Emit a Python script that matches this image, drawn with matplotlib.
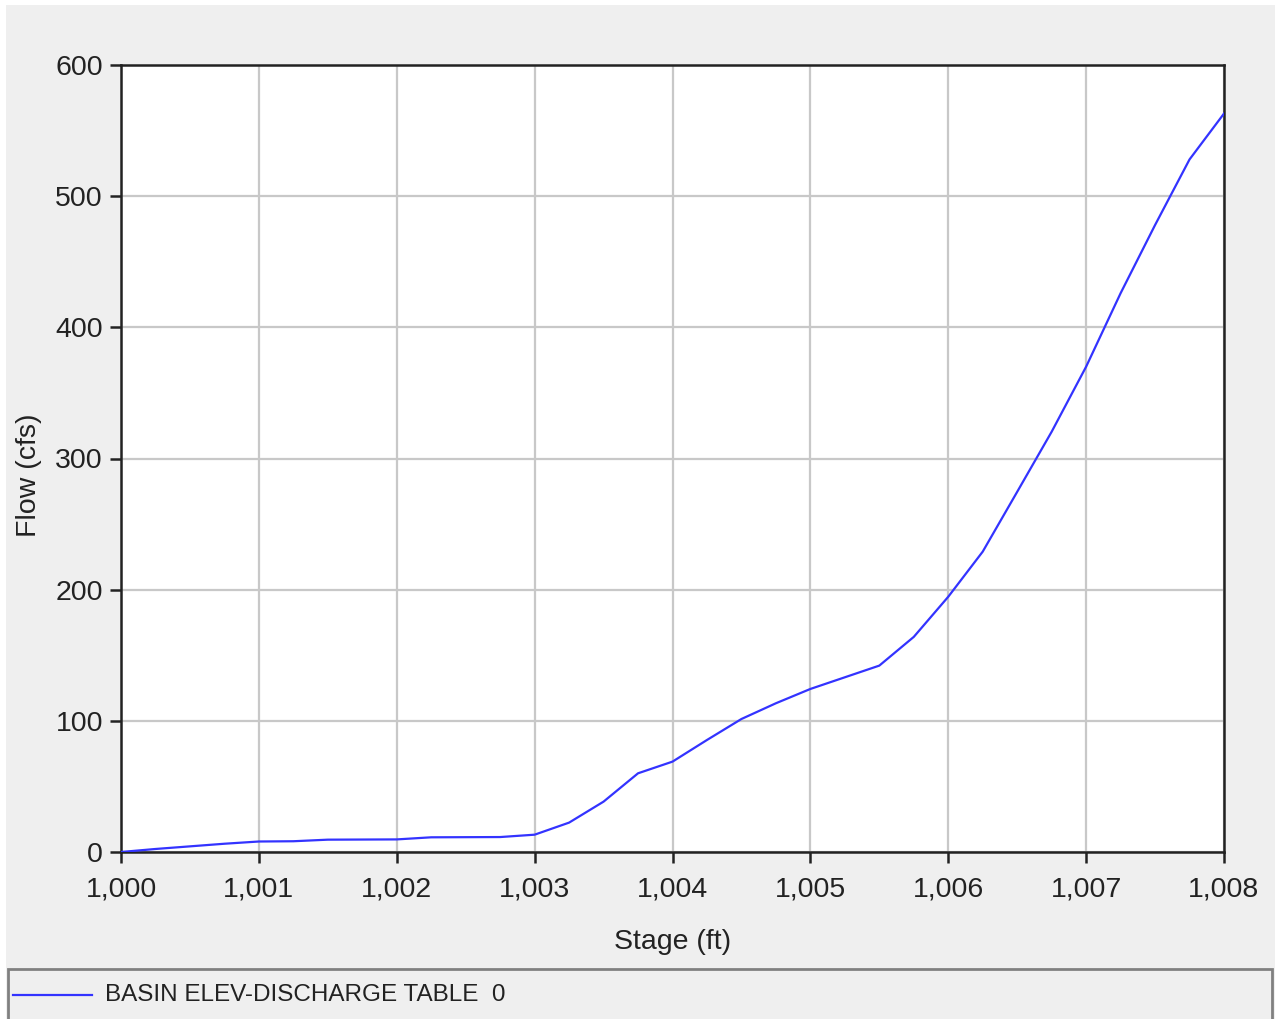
import matplotlib
matplotlib.use("Agg")
import matplotlib.pyplot as plt
from matplotlib.patches import Rectangle
from matplotlib.lines import Line2D
from matplotlib.ticker import FuncFormatter

stage = [1000.0, 1000.25, 1000.5, 1000.75, 1001.0, 1001.25, 1001.5, 1001.75,
         1002.0, 1002.25, 1002.5, 1002.75, 1003.0, 1003.25, 1003.5, 1003.75,
         1004.0, 1004.25, 1004.5, 1004.75, 1005.0, 1005.25, 1005.5, 1005.75,
         1006.0, 1006.25, 1006.5, 1006.75, 1007.0, 1007.25, 1007.5, 1007.75,
         1008.0]
flow = [0, 2.3, 4.3, 6.3, 8.0, 8.2, 9.4, 9.5,
        9.6, 11.2, 11.3, 11.4, 13.2, 22.4, 38.4, 60.0,
        68.9, 85.4, 101.4, 113.4, 124.3, 133.2, 142.1, 164.0,
        194.6, 229.0, 274.6, 320.4, 370.0, 426.0, 478.0, 528.0,
        563.0]
x_ticks = [1000, 1001, 1002, 1003, 1004, 1005, 1006, 1007, 1008]
y_ticks = [0, 100, 200, 300, 400, 500, 600]
series_label = "BASIN ELEV-DISCHARGE TABLE  0"
x_label = "Stage (ft)"
y_label = "Flow (cfs)"

W, H = 1275, 1019
plt.rcParams['font.family'] = ['Liberation Sans', 'DejaVu Sans']
fig = plt.figure(figsize=(W / 100, H / 100), dpi=100, facecolor='white')

# background panel
fig.patches.append(Rectangle((6 / W, 0), 1 - 6 / W, 1 - 5 / H, transform=fig.transFigure,
                             facecolor='#efefef', edgecolor='none', zorder=-2))
# legend panel
lx0, ly_top = 8 / W, 1 - 969 / H
fig.patches.append(Rectangle((lx0, -0.05), 1 - 3 / W - lx0, ly_top + 0.05, transform=fig.transFigure,
                             facecolor='#efefef', edgecolor='#808080', linewidth=2.0, zorder=-1))

left, right, top, bottom = 121, 1224, 65, 852
ax = fig.add_axes([left / W, 1 - bottom / H, (right - left) / W, (bottom - top) / H])
ax.set_zorder(2)
ax.set_facecolor('white')
ax.plot(stage, flow, color='#3333ff', linewidth=1.6, zorder=3)
ax.set_xlim(1000, 1008)
ax.set_ylim(0, 600)
ax.set_xticks(x_ticks)
ax.set_yticks(y_ticks)
ax.xaxis.set_major_formatter(FuncFormatter(lambda v, p: f"{int(round(v)):,}"))
ax.grid(True, color='#c8c8c8', linewidth=1.6)
ax.set_axisbelow(True)
for s in ax.spines.values():
    s.set_color('#222222')
    s.set_linewidth(1.8)
ax.tick_params(axis='both', direction='out', length=8, width=1.8, color='#222222',
               labelsize=20.5, labelcolor='#222222')
ax.tick_params(axis='x', pad=10)
ax.tick_params(axis='y', pad=5)
ax.set_xlabel(x_label, fontsize=20.5, color='#222222', labelpad=19)
ax.set_ylabel(y_label, fontsize=20.5, color='#222222')
ax.yaxis.set_label_coords((42 - left) / (right - left), (bottom - 475) / (bottom - top))

# legend entry
ly = 1 - 995 / H
fig.lines.append(Line2D([13 / W, 92 / W], [ly, ly], transform=fig.transFigure,
                        color='#3333ff', linewidth=1.6, zorder=5))
fig.text(105 / W, ly, series_label, fontsize=17.5, color='#222222', va='center', ha='left', zorder=5)

fig.savefig('out.png', dpi=100, facecolor=fig.get_facecolor())
